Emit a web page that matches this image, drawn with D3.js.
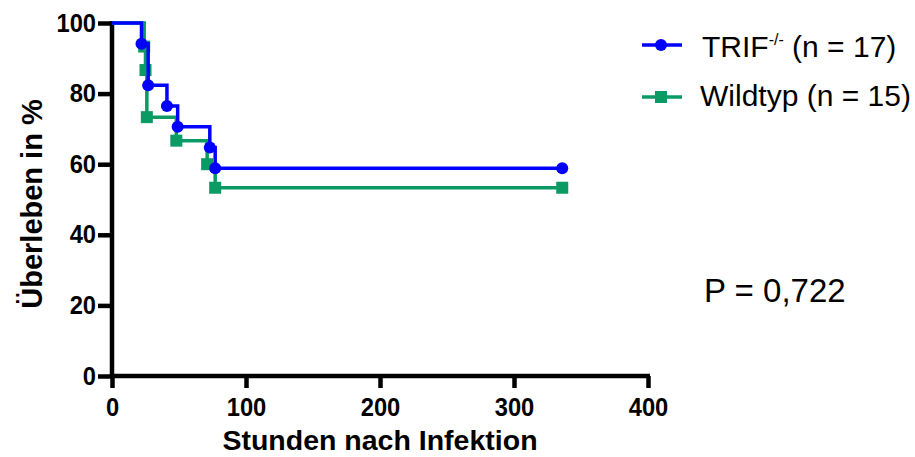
<!DOCTYPE html>
<html>
<head>
<meta charset="utf-8">
<script src="https://cdn.jsdelivr.net/npm/d3@7"></script>
<style>
  html, body { margin: 0; padding: 0; background: #fff; }
  svg { display: block; }
  text { font-family: "Liberation Sans", Arial, sans-serif; }
</style>
</head>
<body>
<svg id="chart" width="915" height="457"></svg>
<script>
// Kaplan-Meier survival data (hours after infection, % surviving)
const trifTimes  = [0, 22, 27, 41, 49, 73, 77, 336];
const trifSurv   = [100, 94.12, 82.35, 76.47, 70.59, 64.71, 58.82, 58.82];
const wildTimes  = [0, 24, 25, 26, 48, 71, 77, 336];
const wildSurv   = [100, 93.33, 86.67, 73.33, 66.67, 60.0, 53.33, 53.33];

const seriesNames = ["TRIF", "Wildtyp"];
const seriesN = [17, 15];
const xTicks = [0, 100, 200, 300, 400];
const yTicks = [0, 20, 40, 60, 80, 100];
const pValueText = "P = 0,722";

const svg = d3.select("#chart");
const margin = { left: 112, top: 23, right: 267, bottom: 81 };
const W = 915, H = 457;

const x = d3.scaleLinear().domain([0, 400]).range([margin.left, W - margin.right]);
const y = d3.scaleLinear().domain([0, 100]).range([H - margin.bottom, margin.top]);

const blue = "#0000ff";
const green = "#0a9a64";
const tickFont = 25.5, tickSqueeze = 0.93;

// axes
const xAxis = svg.append("g")
  .attr("transform", `translate(0,${y(0)})`)
  .call(d3.axisBottom(x).tickValues(xTicks).tickSize(12).tickPadding(10).tickSizeOuter(0));
const yAxis = svg.append("g")
  .attr("transform", `translate(${x(0)},0)`)
  .call(d3.axisLeft(y).tickValues(yTicks).tickSize(14).tickPadding(2).tickSizeOuter(0));

[xAxis, yAxis].forEach(g => {
  g.select(".domain").attr("stroke", "#000").attr("stroke-width", 4.5);
  g.selectAll(".tick line").attr("stroke", "#000").attr("stroke-width", 4.5);
  g.selectAll(".tick text")
    .attr("fill", "#000")
    .attr("transform", `scale(${tickSqueeze},1)`)
    .style("font-size", tickFont + "px")
    .style("font-weight", "bold")
    .style("font-family", '"Liberation Sans", Arial, sans-serif');
});
yAxis.selectAll(".tick text").attr("x", -16 / tickSqueeze);
// extend axis lines to cover the corner
xAxis.select(".domain").attr("d", `M${x(0) - 2},0H${x(400) + 2}`);
yAxis.select(".domain").attr("d", `M0,${y(100) - 2}V${y(0) + 2}`);

// axis titles
svg.append("text")
  .attr("x", (x(0) + x(400)) / 2)
  .attr("y", 450)
  .attr("text-anchor", "middle")
  .style("font-size", "28.5px")
  .style("font-weight", "bold")
  .text("Stunden nach Infektion");

svg.append("text")
  .attr("transform", `translate(42,204) rotate(-90)`)
  .attr("text-anchor", "middle")
  .style("font-size", "29px")
  .style("font-weight", "bold")
  .text("Überleben in %");

// step lines
const stepLine = d3.line()
  .x(d => x(d[0]))
  .y(d => y(d[1]))
  .curve(d3.curveStepAfter);

function drawSeries(times, surv, color, shape) {
  const pts = times.map((t, i) => [t, surv[i]]);
  svg.append("path")
    .datum(pts)
    .attr("fill", "none")
    .attr("stroke", color)
    .attr("stroke-width", 3.5)
    .attr("d", stepLine);
  // markers at each event (not at the start)
  const markPts = pts.slice(1);
  const g = svg.append("g");
  if (shape === "circle") {
    g.selectAll("circle").data(markPts).join("circle")
      .attr("cx", d => x(d[0])).attr("cy", d => y(d[1]))
      .attr("r", 6).attr("fill", color);
  } else {
    g.selectAll("rect").data(markPts).join("rect")
      .attr("x", d => x(d[0]) - 6).attr("y", d => y(d[1]) - 6)
      .attr("width", 12).attr("height", 12).attr("fill", color);
  }
}

drawSeries(wildTimes, wildSurv, green, "square");
drawSeries(trifTimes, trifSurv, blue, "circle");

// legend
const legend = svg.append("g");
const legY = [45, 97];
const colors = [blue, green];
legend.selectAll("line").data(legY).join("line")
  .attr("x1", 642).attr("x2", 682)
  .attr("y1", d => d).attr("y2", d => d)
  .attr("stroke", (d, i) => colors[i]).attr("stroke-width", 3.5);
legend.append("circle").attr("cx", 661).attr("cy", legY[0]).attr("r", 6).attr("fill", blue);
legend.append("rect").attr("x", 655).attr("y", legY[1] - 6).attr("width", 12).attr("height", 12).attr("fill", green);

const t1 = legend.append("text").attr("x", 702).attr("y", 56.5).style("font-size", "30px");
t1.append("tspan").text(seriesNames[0]);
t1.append("tspan").attr("dy", -12).style("font-size", "16px").text("-/-");
t1.append("tspan").attr("dy", 12).text(` (n = ${seriesN[0]})`);

legend.append("text").attr("x", 700).attr("y", 106).style("font-size", "30px")
  .text(`${seriesNames[1]} (n = ${seriesN[1]})`);

// log-rank p value
svg.append("text")
  .attr("x", 704).attr("y", 302)
  .style("font-size", "33px")
  .text(pValueText);
</script>
</body>
</html>
